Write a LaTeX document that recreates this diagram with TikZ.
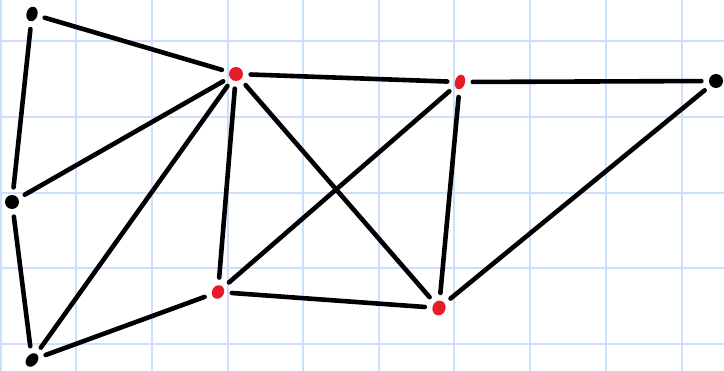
\documentclass[tikz,border=0pt]{standalone}
\definecolor{gridblue}{RGB}{204,224,250}
\definecolor{dotred}{RGB}{232,28,38}
\usetikzlibrary{shapes.geometric}
\tikzset{
  blackdot/.style={ellipse, fill=black, inner sep=0pt, minimum width=12pt, minimum height=15pt},
  reddot/.style={ellipse, fill=dotred, inner sep=0pt, minimum width=12pt, minimum height=15pt},
  edge/.style={line width=4.6pt, line cap=round, shorten >=7.5pt, shorten <=7.5pt}
}
\begin{document}
\begin{tikzpicture}[x=1pt,y=-1pt]
\useasboundingbox (0,0) rectangle (724,371);
\fill[white] (0,0) rectangle (724,371);
\foreach \x in {0.5,76,152,228,303,379,454,530,606,682}
  \draw[gridblue, line width=2pt] (\x,0) -- (\x,371);
\foreach \y in {41,117,193,268,344}
  \draw[gridblue, line width=2pt] (0,\y) -- (724,\y);
\node[blackdot, rotate=-15, minimum width=11pt] (A) at (32,14) {};
\node[reddot, minimum width=14pt, minimum height=14pt] (B) at (236,74) {};
\node[reddot, rotate=-15, minimum width=10pt] (C) at (460,82) {};
\node[blackdot, minimum width=14pt, minimum height=14pt] (D) at (716,81) {};
\node[blackdot, minimum width=14pt, minimum height=14pt] (E) at (12,202) {};
\node[reddot, rotate=-30, minimum width=12pt, minimum height=14pt] (F) at (218,292) {};
\node[reddot, rotate=-20, minimum width=13pt] (G) at (439,308) {};
\node[blackdot, rotate=-40, minimum width=11pt] (H) at (32,360) {};
\draw[edge] (A) -- (B);
\draw[edge] (A) -- (E);
\draw[edge] (E) -- (B);
\draw[edge] (E) -- (H);
\draw[edge] (H) -- (B);
\draw[edge] (H) -- (F);
\draw[edge] (B) -- (F);
\draw[edge] (B) -- (C);
\draw[edge] (B) -- (G);
\draw[edge] (F) -- (C);
\draw[edge] (F) -- (G);
\draw[edge] (C) -- (G);
\draw[edge] (C) -- (D);
\draw[edge] (D) -- (G);
\end{tikzpicture}
\end{document}
